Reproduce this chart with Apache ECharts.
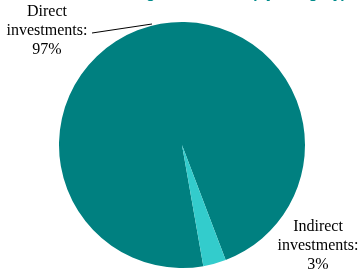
<!DOCTYPE html>
<html>
<head>
<meta charset="utf-8">
<script src="https://cdn.jsdelivr.net/npm/echarts@6/dist/echarts.min.js"></script>
<style>
  html, body { margin: 0; padding: 0; background: #fff; }
  #chart { width: 359px; height: 272px; }
</style>
</head>
<body>
<div id="chart"></div>
<script>
// investment categories and their share
var categories = ['Direct investments', 'Indirect investments'];
var shares = [97, 3];
var colors = ['#008080', '#33CCCC'];

var chart = echarts.init(document.getElementById('chart'));

var pieData = categories.map(function (name, i) {
  return { name: name, value: shares[i], itemStyle: { color: colors[i] } };
});

var option = {
  animation: false,
  title: {
    text: 'Structure of Foreign Investment (by category)',
    right: 8,
    top: -19,
    textStyle: { color: '#008B8B', fontSize: 15, fontWeight: 'bold', fontFamily: 'Liberation Sans' }
  },
  series: [{
    type: 'pie',
    center: [182, 145],
    radius: 123,
    startAngle: 280,
    clockwise: true,
    data: pieData,
    label: {
      show: true,
      formatter: function (p) {
        return p.name.replace(' ', '\n') + ':\n' + p.value + '%';
      },
      fontFamily: 'Liberation Serif',
      fontSize: 16,
      lineHeight: 19,
      color: '#000',
      align: 'center'
    },
    labelLine: { show: true, lineStyle: { color: '#000', width: 1 }, length: 0, length2: 0 },
    labelLayout: function (p) {
      if (p.dataIndex === 0) {
        return {
          x: 47, y: 31, align: 'center', verticalAlign: 'middle',
          labelLinePoints: [[152, 24], [92, 33], [92, 33]]
        };
      }
      return { x: 318, y: 246, align: 'center', verticalAlign: 'middle', labelLinePoints: [[0, 0], [0, 0], [0, 0]] };
    }
  }]
};

chart.setOption(option);
</script>
</body>
</html>
